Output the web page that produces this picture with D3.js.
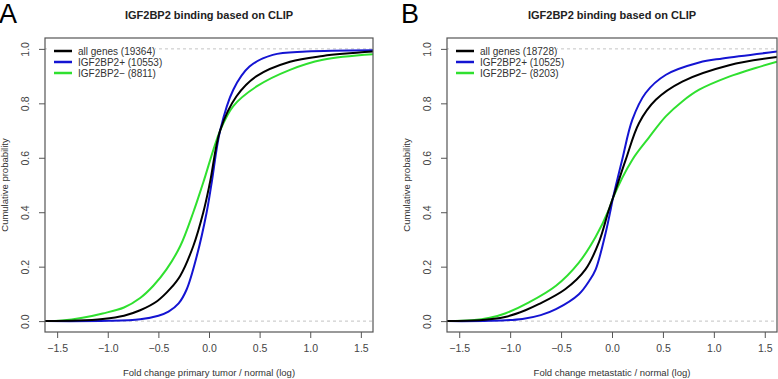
<!DOCTYPE html>
<html>
<head>
<meta charset="utf-8">
<script src="https://cdn.jsdelivr.net/npm/d3@7"></script>
<style>
  body { margin: 0; background: #fff; }
  svg { font-family: "Liberation Sans", Arial, sans-serif; }
</style>
</head>
<body>
<div id="chart"></div>
<script>
// ---- data (x = log fold change, y = cumulative probability) ----
const xTicks = [-1.5, -1.0, -0.5, 0.0, 0.5, 1.0, 1.5];
const yTicks = [0, 0.2, 0.4, 0.6, 0.8, 1.0];

const allGenesA = [[-1.62,0],[-1.3,0.002],[-1.05,0.008],[-0.84,0.02],[-0.68,0.04],[-0.51,0.074],[-0.38,0.12],[-0.285,0.166],
  [-0.155,0.276],[-0.056,0.40],[0.01,0.51],[0.11,0.70],[0.27,0.825],[0.47,0.90],[0.80,0.953],[1.125,0.974],[1.62,0.99]];
const posA = [[-1.62,0],[-1.0,0.001],[-0.68,0.007],[-0.5,0.02],[-0.4,0.035],[-0.3,0.065],[-0.22,0.117],[-0.12,0.24],
  [-0.023,0.40],[0.027,0.51],[0.11,0.70],[0.24,0.85],[0.40,0.935],[0.63,0.978],[0.96,0.99],[1.62,0.995]];
const negA = [[-1.62,0],[-1.45,0.002],[-1.25,0.012],[-1.05,0.028],[-0.84,0.05],[-0.68,0.085],[-0.55,0.13],[-0.42,0.19],
  [-0.285,0.275],[-0.155,0.40],[-0.056,0.51],[0.11,0.70],[0.24,0.79],[0.47,0.862],[0.80,0.923],[1.125,0.96],[1.62,0.98]];

const allGenesB = [[-1.62,0],[-1.3,0.003],[-1.05,0.015],[-0.85,0.04],[-0.72,0.062],[-0.46,0.117],[-0.26,0.19],[-0.128,0.29],
  [-0.03,0.41],[0.01,0.453],[0.135,0.593],[0.266,0.728],[0.43,0.813],[0.69,0.88],[1.15,0.94],[1.62,0.97]];
const posB = [[-1.62,0],[-1.2,0.001],[-0.88,0.008],[-0.7,0.022],[-0.55,0.044],[-0.325,0.099],[-0.22,0.15],[-0.16,0.19],
  [-0.062,0.325],[-0.013,0.41],[0.01,0.453],[0.10,0.593],[0.2,0.74],[0.33,0.838],[0.53,0.905],[0.856,0.95],[1.085,0.965],[1.62,0.99]];
const negB = [[-1.62,0],[-1.375,0.003],[-1.2,0.012],[-1.05,0.028],[-0.82,0.068],[-0.55,0.13],[-0.325,0.215],[-0.16,0.31],
  [-0.03,0.41],[0.01,0.453],[0.20,0.593],[0.364,0.675],[0.528,0.752],[0.69,0.807],[0.856,0.85],[1.15,0.898],[1.41,0.93],[1.62,0.953]];

const legendA = ["all genes (19364)", "IGF2BP2+ (10553)", "IGF2BP2\u2212 (8811)"];
const legendB = ["all genes (18728)", "IGF2BP2+ (10525)", "IGF2BP2\u2212 (8203)"];
const seriesColors = ["#000000", "#1414d2", "#2fe02f"];

const W = 778, H = 379;
const svg = d3.select("#chart").append("svg").attr("width", W).attr("height", H);

function minusFmt(d) {
  return d3.format(".1f")(d).replace("-", "\u2212");
}

function drawPanel(opts) {
  const box = opts.box; // left, right, top, bottom
  const x = d3.scaleLinear().domain([-1.62, 1.62]).range([box.left, box.right]);
  const y = d3.scaleLinear().domain([-0.04, 1.04]).range([box.bottom, box.top]);
  const g = svg.append("g");

  // clip for curves
  const clipId = "clip" + opts.letter;
  svg.append("clipPath").attr("id", clipId).append("rect")
    .attr("x", box.left).attr("y", box.top)
    .attr("width", box.right - box.left).attr("height", box.bottom - box.top);

  // reference lines at 0 and 1
  [0, 1].forEach(v => {
    g.append("line")
      .attr("x1", box.left).attr("x2", box.right)
      .attr("y1", y(v)).attr("y2", y(v))
      .attr("stroke", "#b4b4b4").attr("stroke-width", 0.8)
      .attr("stroke-dasharray", "3,3");
  });

  // curves
  const line = d3.line().x(d => x(d[0])).y(d => y(d[1])).curve(d3.curveCatmullRom.alpha(0.5));
  const curves = g.append("g").attr("clip-path", "url(#" + clipId + ")");
  [2, 1, 0].forEach(i => {
    curves.append("path").datum(opts.series[i])
      .attr("fill", "none").attr("stroke", seriesColors[i])
      .attr("stroke-width", 2).attr("d", line);
  });

  // legend with white background
  const lg = g.append("g");
  lg.append("rect").attr("x", box.left + 2).attr("y", box.top + 5)
    .attr("width", 108).attr("height", 36).attr("fill", "#fff");
  opts.legend.forEach((t, i) => {
    const ly = box.top + 13 + i * 11;
    lg.append("line").attr("x1", box.left + 9).attr("x2", box.left + 27)
      .attr("y1", ly).attr("y2", ly)
      .attr("stroke", seriesColors[i]).attr("stroke-width", 2.5);
    lg.append("text").attr("x", box.left + 33).attr("y", ly + 3.5)
      .attr("font-size", 10).attr("fill", "#333").text(t);
  });

  // box
  g.append("rect").attr("x", box.left).attr("y", box.top)
    .attr("width", box.right - box.left).attr("height", box.bottom - box.top)
    .attr("fill", "none").attr("stroke", "#555").attr("stroke-width", 1.2);

  // x axis
  const xAxis = d3.axisBottom(x).tickValues(xTicks).tickFormat(minusFmt).tickSize(6).tickPadding(7);
  const xg = g.append("g").attr("transform", "translate(0," + box.bottom + ")").call(xAxis);
  xg.select(".domain").remove();
  xg.selectAll("line").attr("stroke", "#555");
  xg.selectAll("text").attr("font-size", 10.5).attr("fill", "#444").attr("font-family", "Liberation Sans, Arial, sans-serif");

  // y axis with rotated labels
  const yAxis = d3.axisLeft(y).tickValues(yTicks).tickFormat(d3.format(".1f")).tickSize(6);
  const yg = g.append("g").attr("transform", "translate(" + box.left + ",0)").call(yAxis);
  yg.select(".domain").remove();
  yg.selectAll("line").attr("stroke", "#555");
  yg.selectAll("text")
    .attr("font-size", 10.5).attr("fill", "#444").attr("font-family", "Liberation Sans, Arial, sans-serif")
    .attr("x", null).attr("dy", null)
    .attr("text-anchor", "middle")
    .attr("transform", "translate(-16,0) rotate(-90)");

  // titles
  g.append("text").attr("x", (box.left + box.right) / 2).attr("y", 19)
    .attr("text-anchor", "middle").attr("font-size", 11).attr("font-weight", "bold")
    .attr("fill", "#222").text("IGF2BP2 binding based on CLIP");
  g.append("text").attr("x", (box.left + box.right) / 2).attr("y", 376)
    .attr("text-anchor", "middle").attr("font-size", 9.5).attr("fill", "#333").text(opts.xTitle);
  g.append("text")
    .attr("transform", "translate(" + (box.left - 37) + "," + ((box.top + box.bottom) / 2) + ") rotate(-90)")
    .attr("text-anchor", "middle").attr("font-size", 9.5).attr("fill", "#333").text("Cumulative probability");

  // panel letter
  g.append("text").attr("x", opts.letterX).attr("y", 23)
    .attr("font-size", 27).attr("fill", "#000").text(opts.letter);
}

drawPanel({
  letter: "A", letterX: -1,
  box: { left: 45, right: 373, top: 38, bottom: 332 },
  series: [allGenesA, posA, negA],
  legend: legendA,
  xTitle: "Fold change primary tumor / normal (log)"
});

drawPanel({
  letter: "B", letterX: 401,
  box: { left: 447, right: 777, top: 38, bottom: 332 },
  series: [allGenesB, posB, negB],
  legend: legendB,
  xTitle: "Fold change metastatic / normal (log)"
});
</script>
</body>
</html>
